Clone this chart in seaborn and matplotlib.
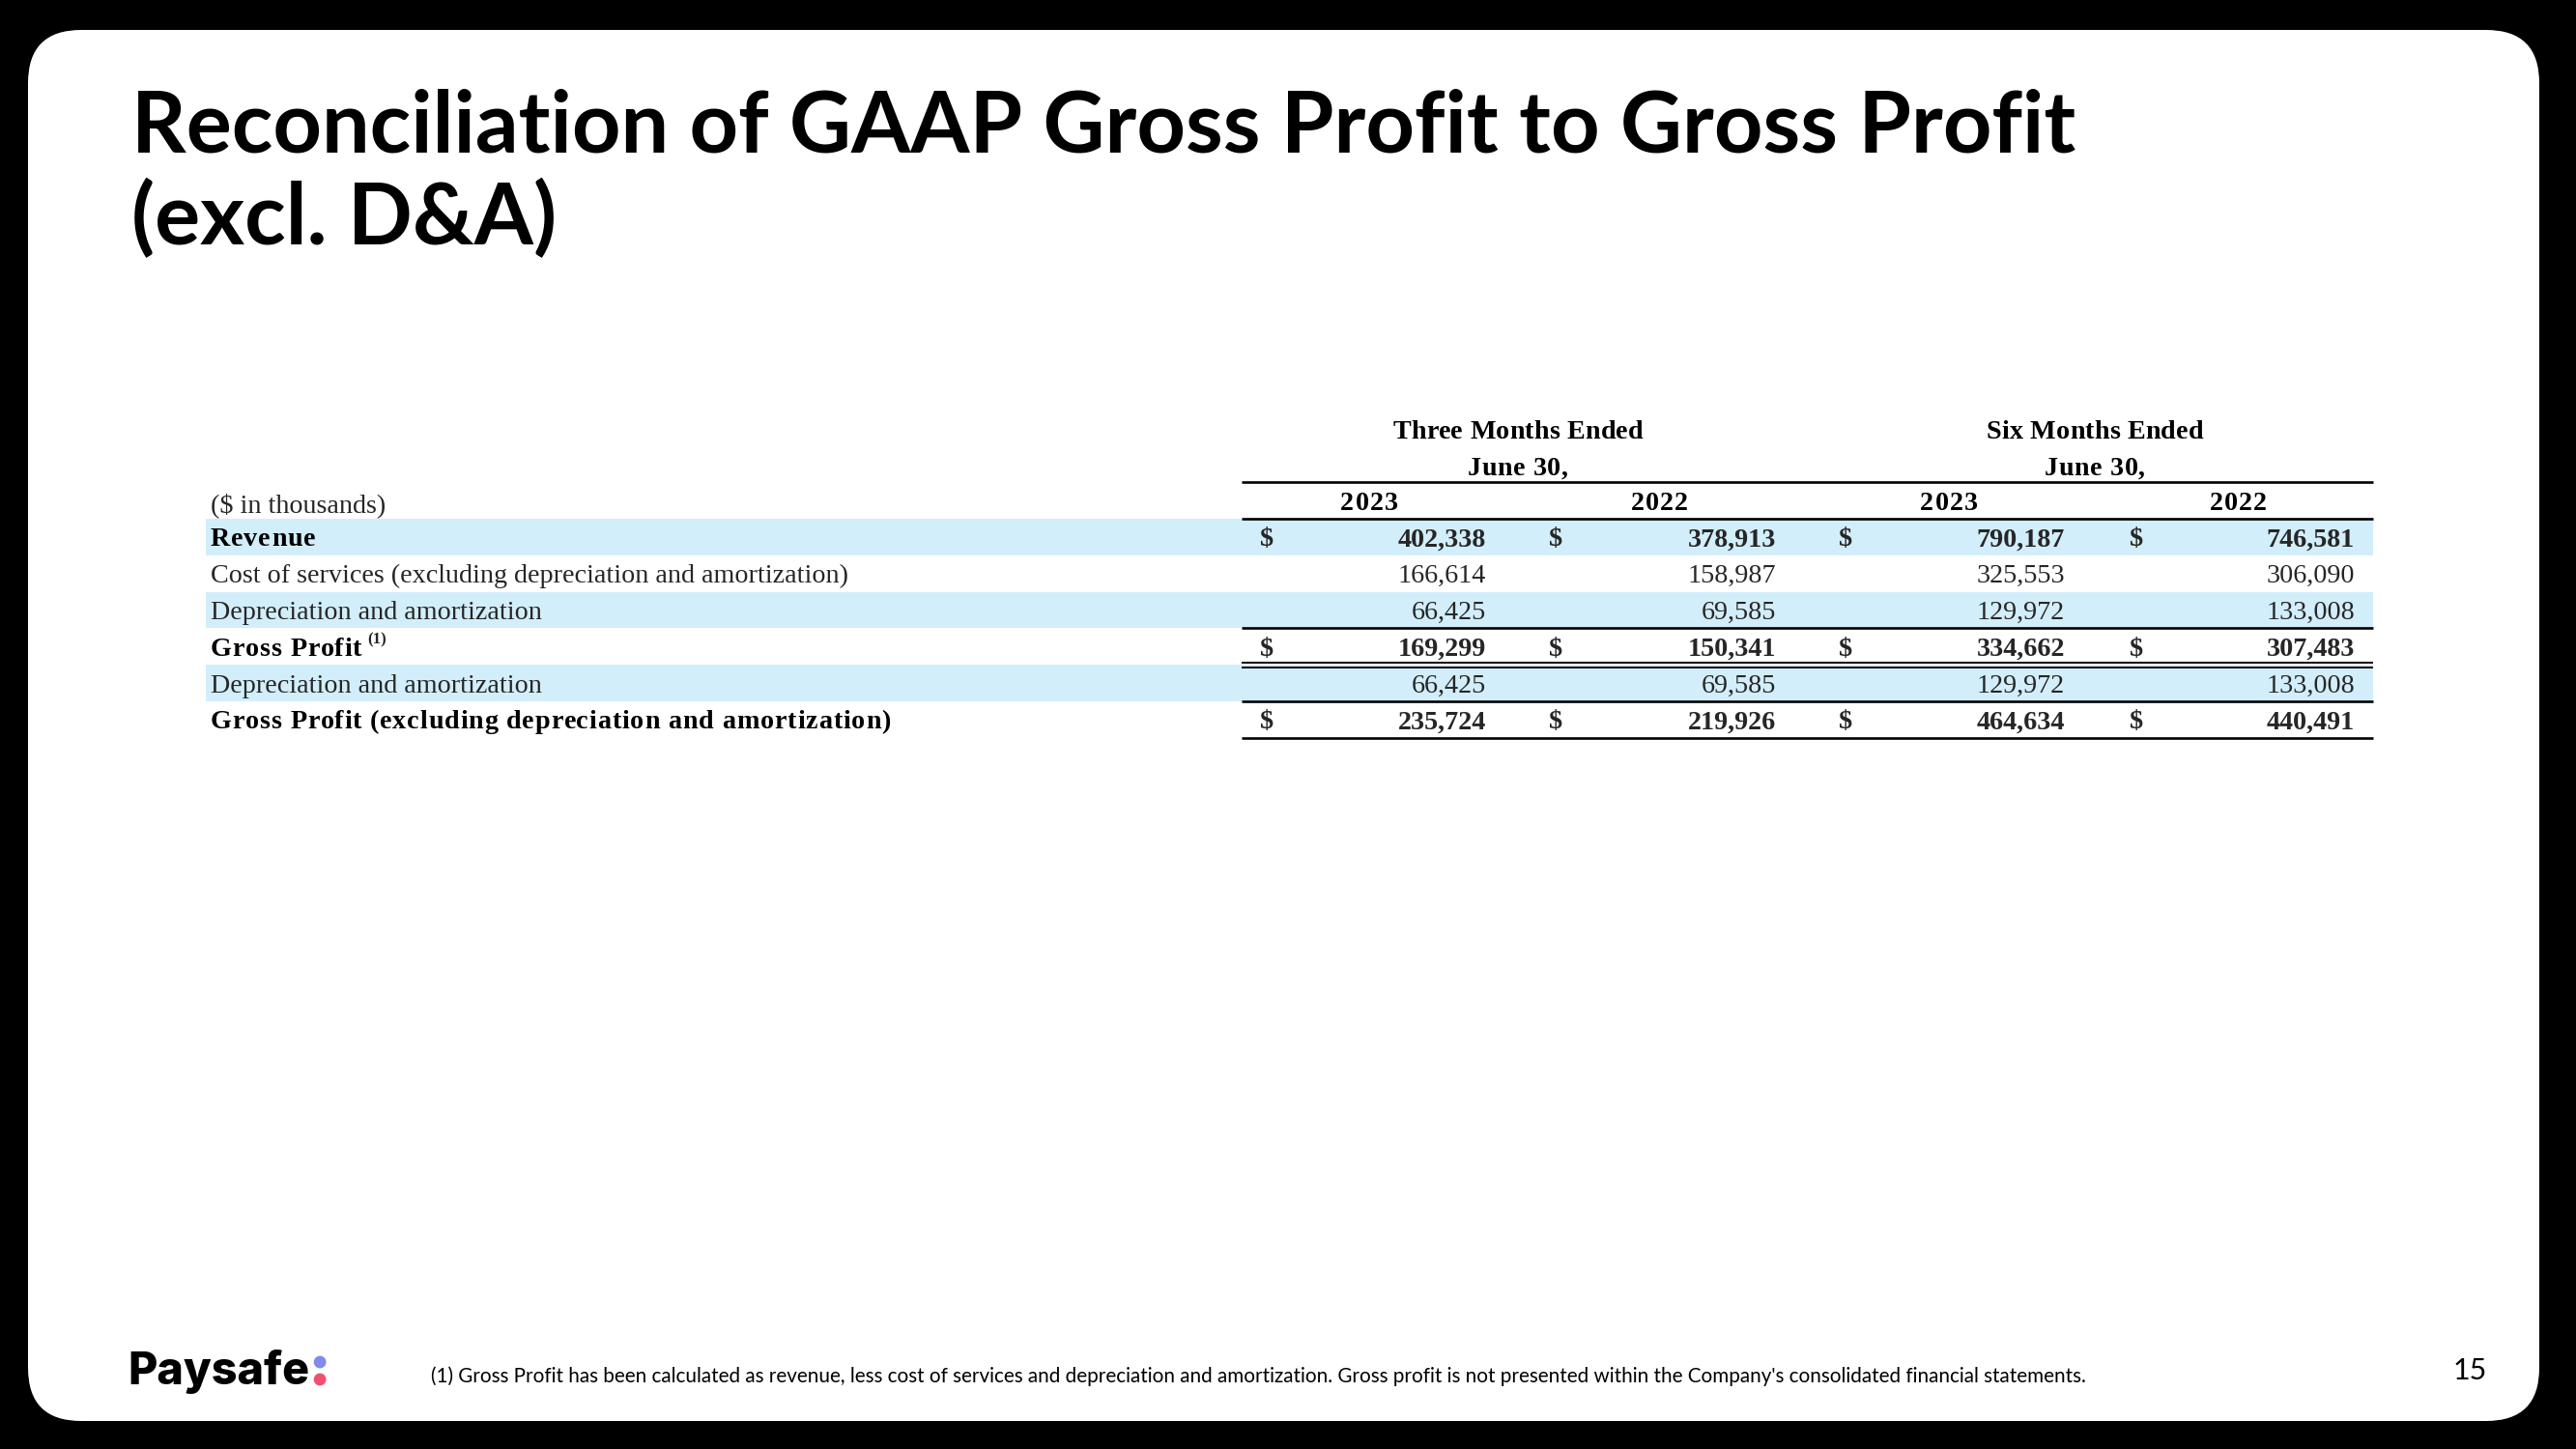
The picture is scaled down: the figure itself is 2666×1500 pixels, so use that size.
import numpy as np
import matplotlib
matplotlib.use("Agg")
import matplotlib.pyplot as plt
from matplotlib.colors import ListedColormap
from matplotlib.patches import FancyBboxPatch
import seaborn as sns

# ---- data ----
row_labels = [
    "Revenue",
    "Cost of services (excluding depreciation and amortization)",
    "Depreciation and amortization",
    "Gross Profit",
    "Depreciation and amortization",
    "Gross Profit (excluding depreciation and amortization)",
]
row_bold = [True, False, False, True, False, True]
row_shaded = [1, 0, 1, 0, 1, 0]
period_groups = ["Three Months Ended", "Six Months Ended"]
period_end = "June 30,"
years = ["2023", "2022", "2023", "2022"]
three_2023 = [402338, 166614, 66425, 169299, 66425, 235724]
three_2022 = [378913, 158987, 69585, 150341, 69585, 219926]
six_2023 = [790187, 325553, 129972, 334662, 129972, 464634]
six_2022 = [746581, 306090, 133008, 307483, 133008, 440491]
value_columns = [three_2023, three_2022, six_2023, six_2022]

title_lines = ["Reconciliation of GAAP Gross Profit to Gross Profit", "(excl. D&A)"]
footnote = ("(1) Gross Profit has been calculated as revenue, less cost of services and "
            "depreciation and amortization. Gross profit is not presented within the "
            "Company's consolidated financial statements.")
page_number = "15"

# ---- layout (pixel canvas) ----
W, H = 2666, 1500
BAND_COLOR = "#D2EEFA"
TABLE_TOP, ROW_H = 537, 37.8
BAND_X0, BAND_X1 = 213, 2456
LINE_X0 = 1285
LABEL_X = 218
DOLLAR_X = [1311, 1610, 1910, 2211]
VALUE_R = [1538, 1838, 2137, 2437]
YEAR_X = [1417, 1717, 2017, 2316]
GROUP_X = [1571, 2168]

sns.set_theme(style="white")
plt.rcParams["font.family"] = ["Liberation Serif", "DejaVu Serif"]

fig = plt.figure(figsize=(W / 100, H / 100), dpi=100)
fig.patch.set_facecolor("black")
renderer = fig.canvas.get_renderer()


def fit_width(txt, width):
    w = txt.get_window_extent(renderer).width
    txt.set_fontsize(txt.get_fontsize() * width / w)
    return txt


def text_width(s, **kw):
    t = ax.text(0, 0, s, **kw)
    w = t.get_window_extent(renderer).width
    t.remove()
    return w


def tracked(x, y, s, extra, ha="left", **kw):
    """Bold table text with a little letter spacing, placed one glyph at a time."""
    ref = text_width("x", **kw)
    offsets = [0.0] + [text_width(s[:k] + "x", **kw) - ref + k * extra
                       for k in range(1, len(s) + 1)]
    total = offsets[-1] - extra
    x0 = x - total / 2 if ha == "center" else x
    for k, ch in enumerate(s):
        if ch != " ":
            ax.text(x0 + offsets[k], y, ch, ha="left", **kw)
    return x0 + total


# slide card
bg = fig.add_axes([0, 0, 1, 1], zorder=0)
bg.set_xlim(0, W)
bg.set_ylim(H, 0)
bg.axis("off")
bg.add_patch(FancyBboxPatch((29, 31), 2599, 1440, boxstyle="round,pad=0,rounding_size=55",
                            fc="white", ec="none"))

# row shading bands via heatmap
n_rows = len(row_labels)
band_y1 = TABLE_TOP + n_rows * ROW_H
hax = fig.add_axes([BAND_X0 / W, 1 - band_y1 / H, (BAND_X1 - BAND_X0) / W,
                    (band_y1 - TABLE_TOP) / H], zorder=1)
sns.heatmap(np.array(row_shaded).reshape(-1, 1), cmap=ListedColormap(["white", BAND_COLOR]),
            vmin=0, vmax=1, cbar=False, xticklabels=False, yticklabels=False, ax=hax)

ax = fig.add_axes([0, 0, 1, 1], zorder=2)
ax.set_xlim(0, W)
ax.set_ylim(H, 0)
ax.axis("off")

# title
t1 = ax.text(136, 157, title_lines[0], fontfamily="Lato", fontweight="bold", fontsize=60,
             ha="left", va="baseline", color="black")
fit_width(t1, 2010)
ax.text(136, 253, title_lines[1], fontfamily="Lato", fontweight="bold",
        fontsize=t1.get_fontsize(), ha="left", va="baseline", color="black")

# table font size from the widest regular label
probe = ax.text(LABEL_X, TABLE_TOP + 1.5 * ROW_H, row_labels[1], fontsize=18,
                ha="left", va="center_baseline", color="black")
fit_width(probe, 659)
FS = probe.get_fontsize()
probe.remove()
bold_kw = dict(fontsize=FS, fontweight="bold", va="center_baseline", color="black")

# headers
for gx, g in zip(GROUP_X, period_groups):
    tracked(gx, 445, g, 0.2, ha="center", **bold_kw)
    tracked(gx, 482, period_end, 0.6, ha="center", **bold_kw)
for yx, yr in zip(YEAR_X, years):
    tracked(yx, 519, yr, 1.0, ha="center", **bold_kw)
ax.text(LABEL_X, 520, "($ in thousands)", fontsize=FS, ha="left", va="center_baseline")

# rows
for i, (label, bold) in enumerate(zip(row_labels, row_bold)):
    yc = TABLE_TOP + (i + 0.5) * ROW_H
    weight = "bold" if bold else "normal"
    if bold:
        x_end = tracked(LABEL_X, yc, label, 0.85, **bold_kw)
        if label == "Gross Profit":
            ax.text(x_end + 6, yc - 9, "(1)", fontsize=FS * 0.6, fontweight="bold",
                    ha="left", va="center_baseline")
    else:
        ax.text(LABEL_X, yc, label, fontsize=FS, ha="left", va="center_baseline")
    for dx, vr, col in zip(DOLLAR_X, VALUE_R, value_columns):
        if bold:
            ax.text(dx, yc, "$", fontsize=FS, fontweight="bold", ha="center",
                    va="center_baseline")
        ax.text(vr, yc, f"{col[i]:,}", fontsize=FS, fontweight=weight, ha="right",
                va="center_baseline")

# rules
LW = 1.9
for y in [499, TABLE_TOP, TABLE_TOP + 3 * ROW_H, TABLE_TOP + 5 * ROW_H,
          TABLE_TOP + 6 * ROW_H]:
    ax.plot([LINE_X0, BAND_X1], [y, y], color="black", lw=LW, solid_capstyle="butt")
for dy in (-2.6, 2.6):
    y = TABLE_TOP + 4 * ROW_H + dy
    ax.plot([LINE_X0, BAND_X1], [y, y], color="black", lw=1.4, solid_capstyle="butt")

# footer
logo = ax.text(132, 1433, "Paysafe", fontfamily="Inter", fontweight="heavy", fontsize=34,
               ha="left", va="baseline", color="black")
fit_width(logo, 188)
lb = logo.get_window_extent(renderer)
ax.scatter([lb.x1 + 11, lb.x1 + 11], [1410, 1428], s=85, c=["#7F8CE8", "#F0506E"],
           edgecolors="none", zorder=3)

fn = ax.text(446, 1423, footnote, fontfamily="Lato", fontsize=14, ha="left",
             va="center_baseline", color="black")
fit_width(fn, 1713)
ax.text(2574, 1416, page_number, fontfamily="Lato", fontsize=22, ha="right",
        va="center_baseline", color="black")

fig.savefig("out.png", dpi=100, facecolor=fig.get_facecolor())
